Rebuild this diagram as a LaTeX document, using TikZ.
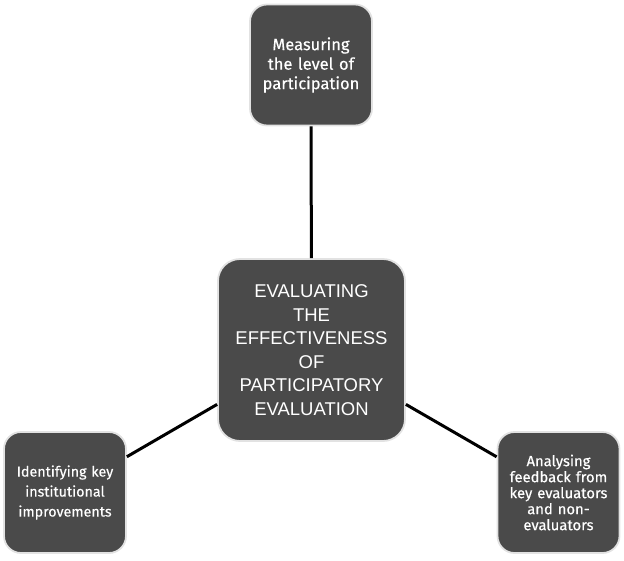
\documentclass[tikz,border=0pt]{standalone}
\usepackage{fontspec}
\setmainfont{Liberation Sans}
\newfontfamily\boxfont[FakeBold=0.4]{Fira Sans}
\usepackage{tikz}
\usetikzlibrary{positioning}

\definecolor{boxgray}{HTML}{4A4A4A}
\definecolor{rimgray}{HTML}{E2E2E2}

\begin{document}
\begin{tikzpicture}[x=1pt, y=-1pt,
    smallbox/.style={rectangle, rounded corners=17pt, fill=boxgray, draw=rimgray, line width=1.8pt, text=white, align=center, font=\boxfont\fontsize{14.3}{20}\selectfont, minimum width=122pt, minimum height=121pt, inner sep=4pt, text width=114pt},
    mainbox/.style={rectangle, rounded corners=22pt, fill=boxgray, draw=rimgray, line width=1.8pt, text=white, align=center, font=\fontsize{18.5}{23.5}\selectfont, minimum width=187pt, minimum height=182pt, inner sep=4pt, text width=178pt},
    link/.style={line width=3pt, black}]

    % Rahmen
    \useasboundingbox (0,0) rectangle (624,560);

    % Kaesten
    \node (main) at (311.5,350) [mainbox] {EVALUATING\\THE\\EFFECTIVENESS\\OF\\PARTICIPATORY\\EVALUATION};
    \node (measure) at (311,65) [smallbox, font=\boxfont\fontsize{16.5}{19.5}\selectfont] {Measuring\\the level of\\participation};
    \node (identify) at (65,492.5) [smallbox] {Identifying key\\institutional\\improvements};
    \node (analyse) at (558.5,492.5) [smallbox, font=\boxfont\fontsize{14.8}{16}\selectfont] {Analysing\\feedback from\\key evaluators\\and non-\\evaluators};

    % Verbindungen
    \draw[link] (measure) -- (main);
    \draw[link] (identify) -- (main);
    \draw[link] (analyse) -- (main);
\end{tikzpicture}
\end{document}
